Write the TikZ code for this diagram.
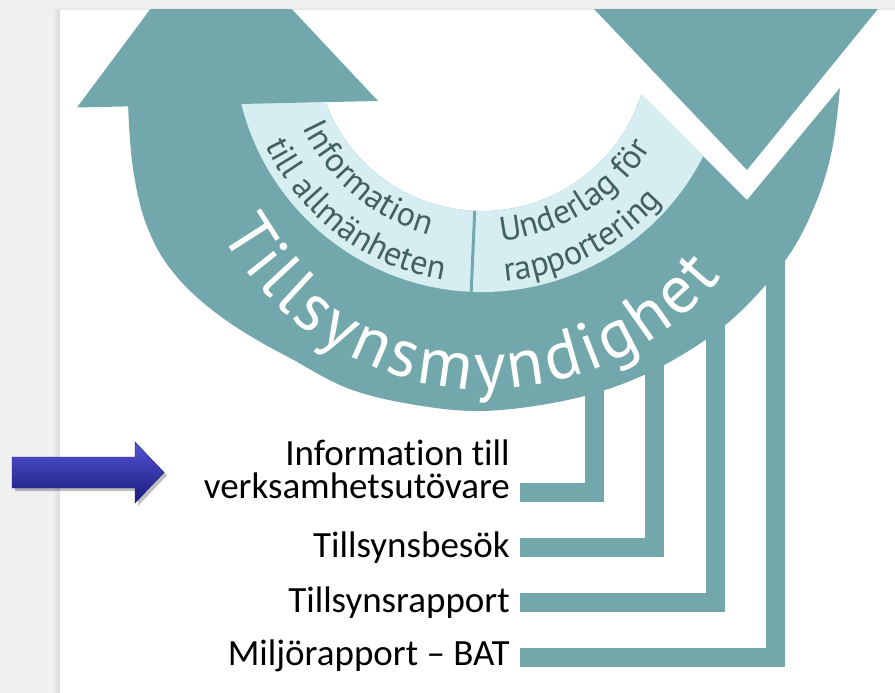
\documentclass[tikz,border=0pt]{standalone}
\usepackage{fontspec}
\setmainfont{Carlito}[Ligatures=NoCommon]
\newfontfamily\arcfont{PT Sans}
\usetikzlibrary{calc,decorations.text}
\definecolor{ringTeal}{RGB}{114,168,172}
\definecolor{bandCyan}{RGB}{214,238,241}
\definecolor{bandText}{RGB}{66,96,100}
\definecolor{slideGray}{RGB}{240,240,240}
\definecolor{arrowTop}{RGB}{84,84,214}
\definecolor{arrowBot}{RGB}{26,26,122}
\tikzset{
	lbl/.style={font=\fontsize{37}{33}\selectfont, anchor=base east, inner sep=0pt},
	bar/.style={draw=ringTeal, line width=19pt, line join=miter},
	arctext/.style n args={3}{decorate, decoration={text along path,
			text={|\arcfont\fontsize{#1}{#1}\selectfont|#3}, text color=#2, text align=left}}
}
% one line of text in the light band, on a circle round (O)
\newcommand{\bandline}[4]{\path[arctext={34}{bandText}{#1}] ($(O)+(#2:#3)$) arc[start angle=#2, end angle=#4, radius=#3];}

\begin{document}
\begin{tikzpicture}[x=1pt, y=1pt]
	\useasboundingbox (0,0) rectangle (895,-693);
	\fill[slideGray] (0,0) rectangle (895,-693);
	\shade[left color=slideGray, right color=black!14] (52,-10) rectangle (60,-693);
	\shade[top color=slideGray, bottom color=black!10] (60,-6) rectangle (895,-10);
	\fill[white] (60,-10) rectangle (895,-693);
	
	\coordinate (O) at (482,-44);
	\coordinate (T) at (486,-86);
	
	\begin{scope}
		\clip (60,-10) rectangle (895,-693);
		% bars down to the labels
		\coordinate (b1) at (594,-360); \coordinate (e1) at (520,-492.5);
		\coordinate (b2) at (654,-330); \coordinate (e2) at (520,-547.5);
		\coordinate (b3) at (715,-290); \coordinate (e3) at (520,-602.5);
		\coordinate (b4) at (775,-240); \coordinate (e4) at (520,-657.5);
		\foreach \i in {1,...,4}
			\draw[bar] (b\i) |- (e\i);
		
		\fill[ringTeal] plot[smooth, tension=0.6] coordinates {(128,-103) (130,-140) (134,-175)
			(143,-215) (158,-250) (177,-277) (200,-300) (227,-321) (257,-340) (290,-358)
			(347,-388) (410,-404) (482,-411) (563,-401) (630,-381) (690,-350) (740,-312)
			(787,-258) (815,-205) (832,-150) (840,-88)}
			-- (747,-200) -- ($(O)+(342.4:167)$) arc[start angle=342.4, end angle=200.7, radius=167] -- cycle;
		\fill[bandCyan] ($(O)+(193.8:248)$) arc[start angle=193.8, end angle=333.1, radius=248]
			-- ($(O)+(342.4:167)$) arc[start angle=342.4, end angle=200.7, radius=167] -- cycle;
		\draw[ringTeal, line width=3pt] ($(O)+(267.5:167)$) -- ($(O)+(267.5:248)$);
		
		\fill[ringTeal] (77,-107.5) -- (213,75) -- (378,-101) -- cycle;
		\fill[ringTeal] (566.5,20) -- (747,-170) -- (901.4,20) -- cycle;
	\end{scope}
	
	\path[decorate, decoration={text along path,
		text={|\arcfont\fontsize{68}{68}\selectfont|Tillsynsmyndighet},
		text color=white, text align={fit to path}}]
		($(T)+(209:303)$) arc[start angle=209, end angle=321, radius=303];
	
	\bandline{Information}{205}{198}{268}
	\bandline{till allmänheten}{205}{239}{268}
	\bandline{Underlag för}{275.5}{198}{345}
	\bandline{rapportering}{275.5}{239}{340}
	
	\node[lbl] (infoLab) at (510,-465) {Information till};
	\node[lbl] (verkLab) at (510,-498) {verksamhetsutövare};
	\node[lbl] (besokLab) at (510,-557) {Tillsynsbesök};
	\node[lbl] (rappLab) at (510,-612) {Tillsynsrapport};
	\node[lbl] (miljoLab) at (510,-665) {Miljörapport – BAT};
	
	\fill[black, opacity=0.25] (15,-460) -- (138,-460) -- (138,-445) -- (167,-475.5) -- (138,-506) -- (138,-491) -- (15,-491) -- cycle;
	\shade[top color=arrowTop, bottom color=arrowBot, draw=arrowBot] (12,-457) -- (135,-457) -- (135,-442)
		-- (164,-472.5) -- (135,-503) -- (135,-488) -- (12,-488) -- cycle;
\end{tikzpicture}
\end{document}
